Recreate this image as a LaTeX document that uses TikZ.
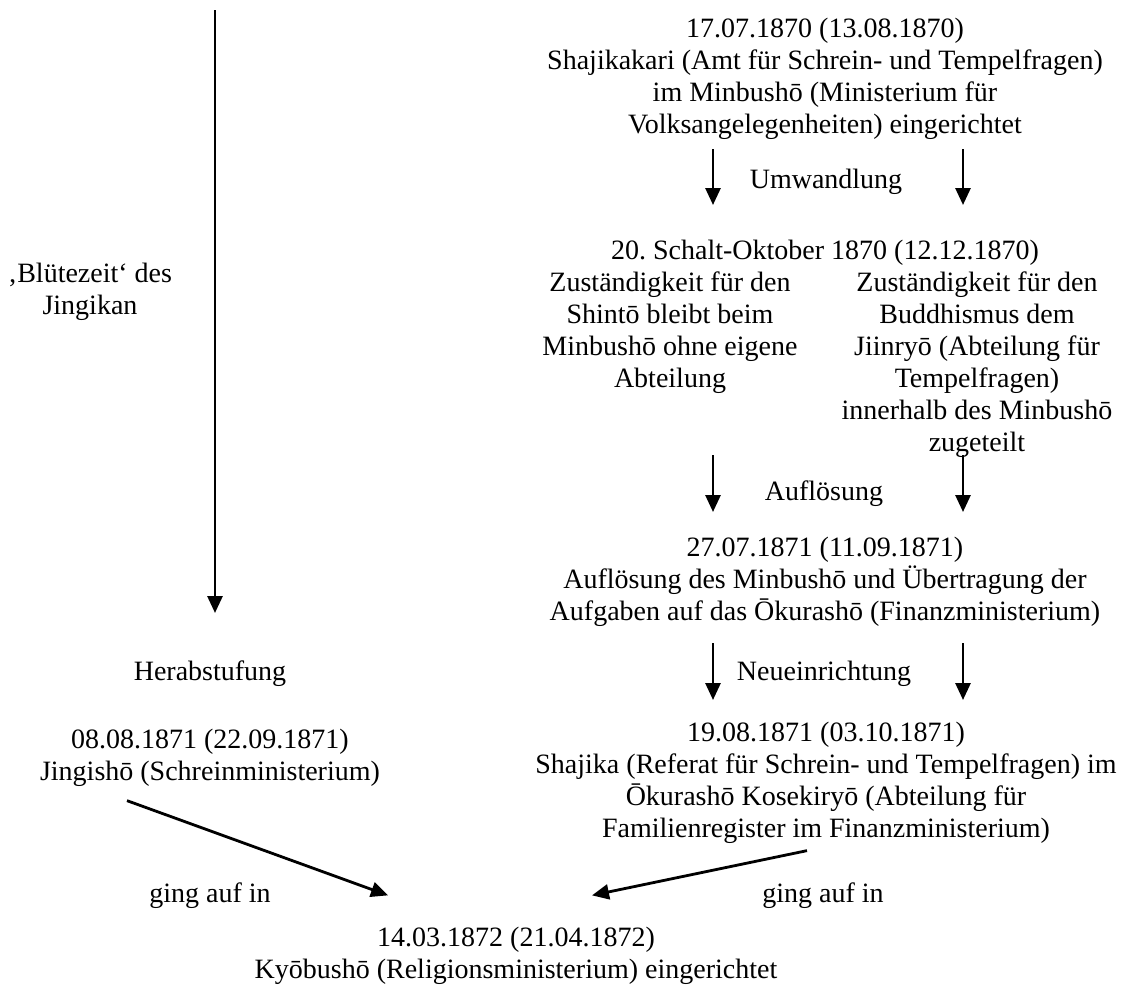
\documentclass[tikz,border=0pt]{standalone}
\usepackage{fontspec}
\setmainfont{Liberation Serif}
\frenchspacing
\usetikzlibrary{arrows.meta}
\newcommand\chartfont{\fontsize{14}{16}\selectfont\lineskiplimit=-20pt\relax}

\begin{document}
\begin{tikzpicture}[x=0.5pt,y=-0.5pt,
        txt/.style={align=center,inner sep=0pt,font=\chartfont},
        arr/.style={-{Triangle[length=8.5pt,width=7.5pt]},line width=1.4pt}]
        \useasboundingbox (0,0) rectangle (1125,987);
        % left column
        \node[txt] (bluete) at (90,292) {‚Blütezeit‘ des\\Jingikan};
        \node[txt] (herab) at (210,674) {Herabstufung};
        \node[txt] (jingisho) at (210,758) {08.08.1871 (22.09.1871)\\Jingishō (Schreinministerium)};
        % right column
        \node[txt] (shajikakari) at (825,79) {17.07.1870 (13.08.1870)\\Shajikakari (Amt für Schrein- und Tempelfragen)\\im Minbushō (Ministerium für\\Volksangelegenheiten) eingerichtet};
        \node[txt] (umw) at (826,182) {Umwandlung};
        \node[txt] (schalt) at (825,253) {20. Schalt-Oktober 1870 (12.12.1870)};
        \node[txt] (shinto) at (670,333) {Zuständigkeit für den\\Shintō bleibt beim\\Minbushō ohne eigene\\Abteilung};
        \node[txt] (jiinryo) at (977,365) {Zuständigkeit für den\\Buddhismus dem\\Jiinryō (Abteilung für\\Tempelfragen)\\innerhalb des Minbushō\\zugeteilt};
        \node[txt] (aufl) at (824,494) {Auflösung};
        \node[txt] (okura) at (825,582) {27.07.1871 (11.09.1871)\\Auflösung des Minbushō und Übertragung der\\Aufgaben auf das Ōkurashō (Finanzministerium)};
        \node[txt] (neu) at (824,674) {Neueinrichtung};
        \node[txt] (shajika) at (826,783) {19.08.1871 (03.10.1871)\\Shajika (Referat für Schrein- und Tempelfragen) im\\Ōkurashō Kosekiryō (Abteilung für\\Familienregister im Finanzministerium)};
        % bottom
        \node[txt] (gingl) at (210,896) {ging auf in};
        \node[txt] (gingr) at (823,896) {ging auf in};
        \node[txt] (kyobusho) at (516,956) {14.03.1872 (21.04.1872)\\Kyōbushō (Religionsministerium) eingerichtet};
        % connectors
        \coordinate (jingikan) at (215,10);
        \draw[arr] (jingikan) -- (jingikan |- 0,613);
        \foreach \ya/\yb in {149/205,455/512,643/700}{
            \draw[arr] (713,\ya) -- (713,\yb);
            \draw[arr] (963,\ya) -- (963,\yb);
        }
        \draw[arr] ([xshift=-41.5pt,yshift=-6.75pt]jingisho.south) -- ([xshift=-64pt,yshift=15.75pt]kyobusho.north);
        \draw[arr] ([xshift=-9.5pt,yshift=-3.25pt]shajika.south) -- ([xshift=38pt,yshift=15.75pt]kyobusho.north);
    \end{tikzpicture}
\end{document}
